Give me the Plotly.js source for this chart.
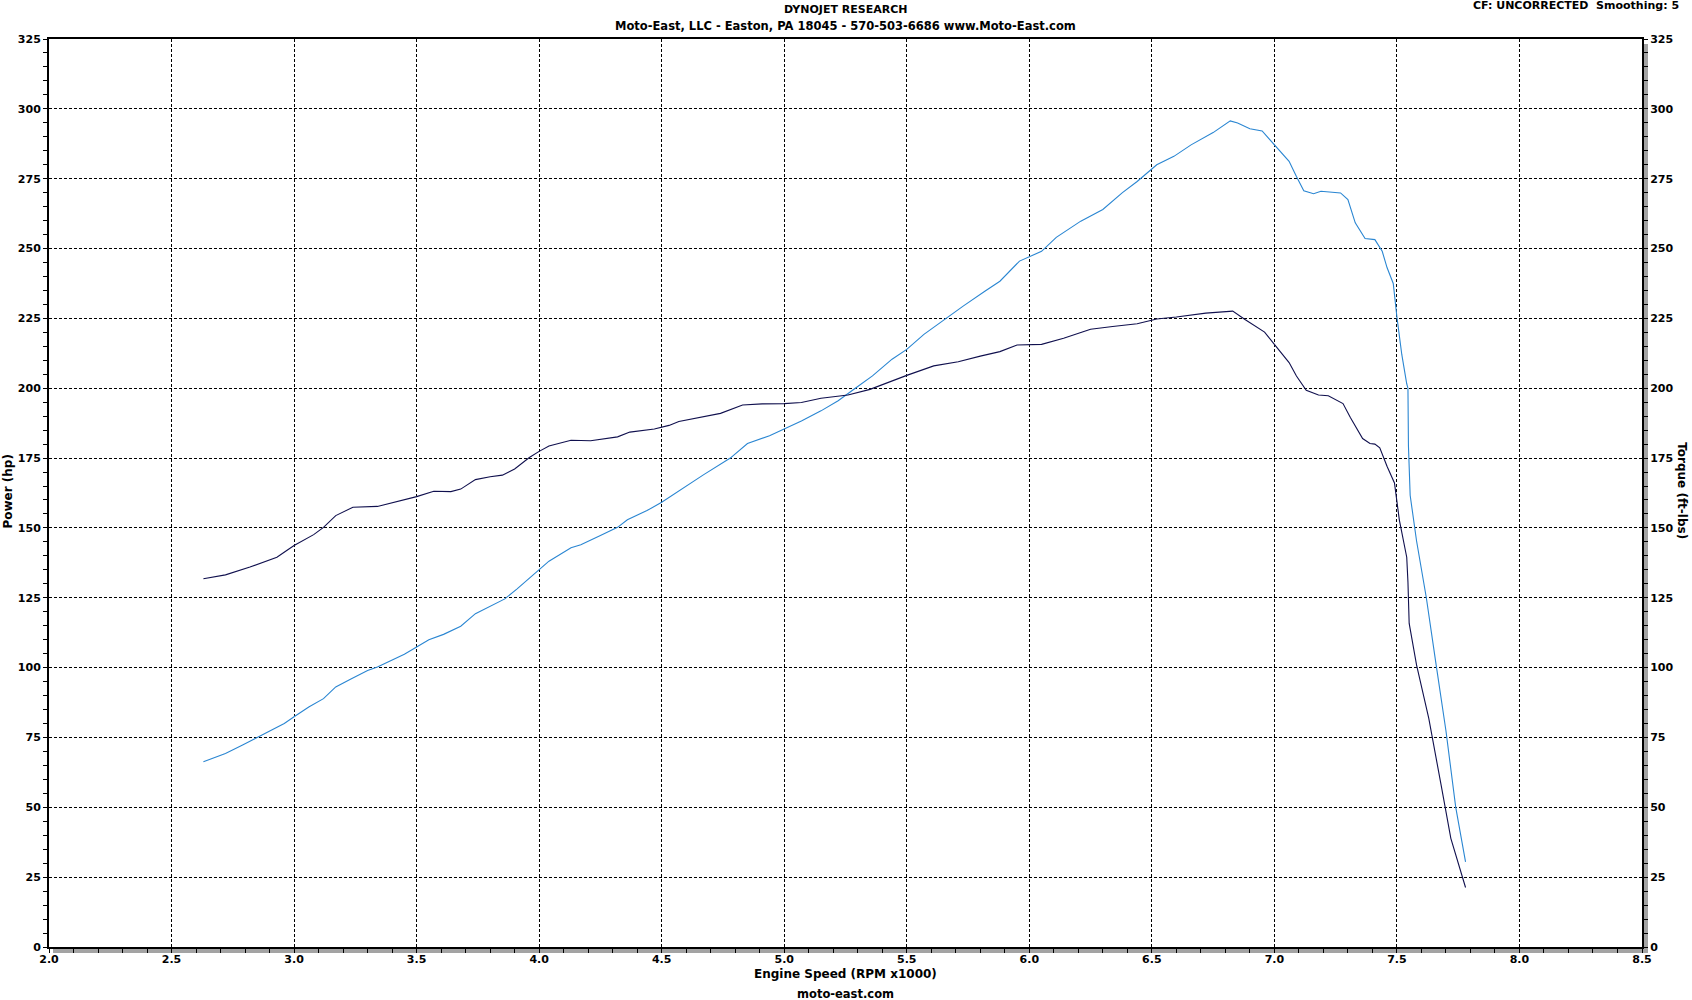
<!DOCTYPE html>
<html>
<head>
<meta charset="utf-8">
<script src="https://cdn.plot.ly/plotly-3.0.1.min.js"></script>
<style>
  html, body { margin: 0; padding: 0; background: #ffffff; }
  #chart { width: 1692px; height: 1000px; }
</style>
</head>
<body>
<div id="chart"></div>
<script>
// Engine speed (RPM x1000) and power (hp) readings
const powerRpm = [2.63,2.72,2.79,2.87,2.96,3.00,3.06,3.12,3.17,3.23,3.30,3.34,3.39,3.45,3.50,3.55,3.61,3.68,3.74,3.80,3.86,3.91,3.95,4.00,4.04,4.13,4.17,4.25,4.32,4.36,4.44,4.50,4.56,4.61,4.67,4.78,4.85,4.94,5.00,5.07,5.15,5.22,5.29,5.36,5.44,5.50,5.57,5.66,5.73,5.82,5.88,5.96,6.05,6.11,6.21,6.30,6.38,6.44,6.52,6.59,6.66,6.75,6.82,6.85,6.90,6.95,6.99,7.06,7.09,7.12,7.16,7.19,7.27,7.30,7.33,7.37,7.41,7.44,7.46,7.485,7.50,7.52,7.54,7.545,7.547,7.554,7.58,7.62,7.66,7.70,7.74,7.78];
const powerHp = [66.3,69.3,72.3,75.8,80.0,82.4,85.9,88.9,93.1,95.8,99.0,100.2,102.4,104.8,107.4,110.0,111.9,114.8,119.3,121.9,124.6,128.2,131.2,135.0,138.1,142.9,144.0,147.3,150.2,152.9,156.2,159.2,162.7,165.7,169.0,175.0,180.2,183.0,185.4,188.3,191.9,195.5,200.0,204.4,210.4,213.9,219.3,225.0,229.4,234.8,238.3,245.5,249.0,254.0,259.8,264.0,270.0,274.0,280.0,283.0,287.1,291.5,295.7,294.9,292.9,292.1,288.1,281.2,275.8,270.7,269.6,270.5,269.9,267.5,259.2,253.6,253.2,249.0,243.1,237.5,225.5,212.0,201.6,200.0,179.4,161.7,145.4,125.0,101.0,77.4,50.0,30.5];

// Engine speed (RPM x1000) and torque (ft-lbs) readings
const torqueRpm = [2.63,2.72,2.82,2.93,2.97,3.00,3.08,3.12,3.17,3.24,3.34,3.42,3.50,3.57,3.64,3.68,3.74,3.80,3.85,3.90,3.96,4.00,4.04,4.13,4.21,4.32,4.37,4.47,4.50,4.53,4.57,4.66,4.74,4.83,4.91,5.00,5.07,5.15,5.26,5.35,5.41,5.50,5.61,5.71,5.80,5.88,5.95,6.05,6.14,6.25,6.34,6.44,6.52,6.60,6.72,6.83,6.88,6.96,7.00,7.06,7.09,7.13,7.18,7.22,7.28,7.31,7.36,7.39,7.41,7.43,7.46,7.49,7.51,7.54,7.545,7.55,7.58,7.63,7.68,7.72,7.78];
const torqueFtLb = [131.8,133.2,136.0,139.5,141.9,143.7,147.6,150.2,154.4,157.4,157.7,159.5,161.2,163.1,163.0,163.9,167.3,168.3,168.9,171.1,175.2,177.4,179.3,181.4,181.2,182.6,184.3,185.4,186.0,186.7,188.1,189.5,191.0,194.0,194.4,194.5,194.9,196.4,197.6,199.6,201.7,204.6,208.0,209.5,211.5,213.1,215.5,215.7,217.9,221.1,222.1,223.1,224.8,225.5,226.9,227.6,224.6,220.1,215.7,209.2,204.4,199.3,197.6,197.3,194.5,189.5,182.0,180.2,180.0,178.7,172.0,166.1,152.8,139.5,130.6,115.8,101.0,81.8,58.1,38.9,21.3];

const xTickVals = [2.0,2.5,3.0,3.5,4.0,4.5,5.0,5.5,6.0,6.5,7.0,7.5,8.0,8.5];
const yTickVals = [0,25,50,75,100,125,150,175,200,225,250,275,300,325];

const titleLine1 = 'DYNOJET RESEARCH';
const titleLine2 = 'Moto-East, LLC - Easton, PA 18045 - 570-503-6686 www.Moto-East.com';
const infoText = 'CF: UNCORRECTED&nbsp;&nbsp;Smoothing: 5';
const xTitle = 'Engine Speed (RPM x1000)';
const leftTitle = 'Power (hp)';
const rightTitle = 'Torque (ft-lbs)';
const footer = 'moto-east.com';

const FONT = 'DejaVu Sans, Verdana, sans-serif';
const tickFont = {family: FONT, size: 11, color: '#000000', weight: 'bold'};

const traces = [
  {x: powerRpm, y: powerHp, type: 'scatter', mode: 'lines', name: 'Power',
   line: {color: '#2a86d2', width: 1.1}, xaxis: 'x', yaxis: 'y', hoverinfo: 'skip'},
  {x: torqueRpm, y: torqueFtLb, type: 'scatter', mode: 'lines', name: 'Torque',
   line: {color: '#10104e', width: 1.1}, xaxis: 'x', yaxis: 'y2', hoverinfo: 'skip'}
];

const layout = {
  width: 1692, height: 1000,
  margin: {l: 49, r: 50, t: 39, b: 53, pad: 0},
  paper_bgcolor: '#ffffff', plot_bgcolor: '#ffffff',
  showlegend: false,
  xaxis: {
    range: [2.0, 8.5], tickvals: xTickVals, ticktext: xTickVals.map(v => v.toFixed(1)),
    showgrid: true, gridcolor: '#000000', gridwidth: 1, griddash: '3px,2px',
    zeroline: false, showline: true, linecolor: '#000000', linewidth: 2, mirror: true,
    ticks: 'outside', ticklen: 1, tickcolor: '#000000', tickwidth: 1,
    minor: {dtick: 0.1, ticks: 'outside', ticklen: 4, tickcolor: '#000000', showgrid: false},
    tickfont: tickFont, fixedrange: true
  },
  yaxis: {
    range: [0, 325], tickvals: yTickVals,
    showgrid: true, gridcolor: '#000000', gridwidth: 1, griddash: '3px,2px',
    zeroline: false, showline: true, linecolor: '#000000', linewidth: 2, mirror: true,
    ticks: 'outside', ticklen: 4, tickcolor: '#000000', tickwidth: 1,
    minor: {dtick: 5, ticks: 'outside', ticklen: 4, tickcolor: '#000000', showgrid: false},
    tickfont: tickFont, fixedrange: true
  },
  yaxis2: {
    range: [0, 325], tickvals: yTickVals, overlaying: 'y', side: 'right',
    showgrid: false, zeroline: false, showline: false,
    ticks: 'outside', ticklen: 5, tickcolor: '#000000', tickwidth: 1,
    minor: {dtick: 5, ticks: 'outside', ticklen: 5, tickcolor: '#000000', showgrid: false},
    tickfont: tickFont, fixedrange: true
  },
  shapes: [
    {type: 'rect', layer: 'below', xref: 'paper', yref: 'paper',
     xsizemode: 'pixel', xanchor: 1, x0: 1, x1: 6,
     ysizemode: 'pixel', yanchor: 0, y0: -6, y1: 903,
     fillcolor: '#a3a3a3', line: {width: 0}},
    {type: 'rect', layer: 'below', xref: 'paper', yref: 'paper',
     xsizemode: 'pixel', xanchor: 0, x0: 4, x1: 1599,
     ysizemode: 'pixel', yanchor: 0, y0: -6, y1: -1,
     fillcolor: '#a3a3a3', line: {width: 0}}
  ],
  annotations: [
    {text: titleLine1, xref: 'paper', yref: 'paper', x: 0.5, y: 1.032, xanchor: 'center', yanchor: 'middle',
     showarrow: false, font: {family: FONT, size: 11, color: '#000', weight: 'bold'}},
    {text: titleLine2, xref: 'paper', yref: 'paper', x: 0.5, y: 1.0147, xanchor: 'center', yanchor: 'middle',
     showarrow: false, font: {family: FONT, size: 11.5, color: '#000', weight: 'bold'}},
    {text: infoText, xref: 'paper', yref: 'paper', x: 1.0247, y: 1.0364, xanchor: 'right', yanchor: 'middle',
     showarrow: false, font: {family: FONT, size: 11, color: '#000', weight: 'bold'}},
    {text: xTitle, xref: 'paper', yref: 'paper', x: 0.5, y: -0.0295, xanchor: 'center', yanchor: 'middle',
     showarrow: false, font: {family: FONT, size: 12, color: '#000', weight: 'bold'}},
    {text: footer, xref: 'paper', yref: 'paper', x: 0.5, y: -0.0515, xanchor: 'center', yanchor: 'middle',
     showarrow: false, font: {family: FONT, size: 11.5, color: '#000', weight: 'bold'}},
    {text: leftTitle, xref: 'paper', yref: 'paper', x: -0.0255, y: 0.502, xanchor: 'center', yanchor: 'middle',
     textangle: -90, showarrow: false, font: {family: FONT, size: 12, color: '#000', weight: 'bold'}},
    {text: rightTitle, xref: 'paper', yref: 'paper', x: 1.0251, y: 0.502, xanchor: 'center', yanchor: 'middle',
     textangle: 90, showarrow: false, font: {family: FONT, size: 12, color: '#000', weight: 'bold'}}
  ]
};

Plotly.newPlot('chart', traces, layout, {displayModeBar: false, staticPlot: true});
</script>
</body>
</html>
